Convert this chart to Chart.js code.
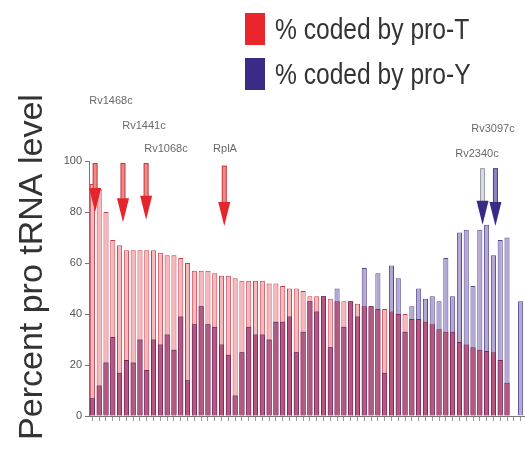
<!DOCTYPE html>
<html>
<head>
<meta charset="utf-8">
<script src="https://cdn.jsdelivr.net/npm/chart.js@4.4.0/dist/chart.umd.min.js"></script>
<style>
  body { margin: 0; background: #fff; }
  canvas { display: block; }
</style>
</head>
<body>
<canvas id="myChart" width="525" height="467"></canvas>
<script>
// % of each protein coded by pro-T / pro-Y
var proT = [91, 89, 80, 69, 67, 65, 65, 65, 65, 65,
  64, 63, 63, 62, 60, 57, 57, 57, 56, 55,
  55, 54, 53, 53, 53, 53, 52, 52, 51, 50,
  50, 49, 47, 47, 47, 46, 45, 45, 45, 44,
  43, 43, 42, 42, 41, 40, 40, 38, 38, 37,
  36, 34, 33, 33, 29, 28, 27, 26, 25.5, 25,
  22, 13, 0, 0]
var proY = [7, 12, 21, 31, 17, 22, 21, 30, 18, 30,
  28, 32, 26, 39, 14, 36, 43, 36, 35, 28,
  24, 8, 25, 35, 32, 32, 30, 37, 37, 39,
  25, 33, 45, 41, 47, 27, 50, 35, 45, 39,
  58, 43, 56, 17, 59, 54, 33, 43, 50, 46,
  47, 45, 62, 47, 72, 73, 51, 73, 75, 63,
  69, 70, 0, 45]
var yTicks = [0, 20, 40, 60, 80, 100]

// highlighted proteins: arrow at category position, shaft top / tip value
var arrowNames = ['Rv1468c', 'Rv1441c', 'Rv1068c', 'RplA', 'Rv2340c', 'Rv3097c']
var arrowPos = [0.4, 4.5, 7.9, 19.4, 57.4, 59.3]
var arrowTop = [99, 99, 99, 98, 97, 97]
var arrowTip = [80, 76, 77, 74.5, 75, 74.5]

var categories = proT.map(function (v, i) { return String(i + 1) })
var overlap = proT.map(function (v, i) { return Math.min(v, proY[i]) })

// styling for the arrows / labels
var arrowStyle = [
  { shaft: '#f08a8a', edge: '#c43232', head: '#e3262b', lx: 111, ly: 104 },
  { shaft: '#f08a8a', edge: '#c43232', head: '#e3262b', lx: 144, ly: 129 },
  { shaft: '#f08a8a', edge: '#c43232', head: '#e3262b', lx: 166, ly: 152 },
  { shaft: '#f08a8a', edge: '#c43232', head: '#e3262b', lx: 225, ly: 152 },
  { shaft: '#d6ddd2', edge: '#9a9aae', head: '#3a2a88', lx: 477, ly: 157 },
  { shaft: '#8d84c4', edge: '#4a3c92', head: '#3a2a88', lx: 493, ly: 132 }
]

var FONT = 'Arial, "Liberation Sans", sans-serif'

var extras = {
  id: 'extras',
  afterDraw: function (chart) {
    var ctx = chart.ctx
    var x = chart.scales.x, y = chart.scales.y

    // arrows
    for (var i = 0; i < arrowNames.length; i++) {
      var s = arrowStyle[i]
      var px = x.getPixelForValue(arrowPos[i])
      var top = y.getPixelForValue(arrowTop[i])
      var tip = y.getPixelForValue(arrowTip[i])
      var headH = 24, headW = 12
      ctx.save()
      ctx.fillStyle = s.shaft
      ctx.strokeStyle = s.edge
      ctx.lineWidth = 1
      ctx.fillRect(px - 2, top, 4, tip - headH - top + 2)
      ctx.strokeRect(px - 2, top, 4, tip - headH - top + 2)
      ctx.beginPath()
      ctx.moveTo(px - headW / 2, tip - headH)
      ctx.lineTo(px + headW / 2, tip - headH)
      ctx.lineTo(px, tip)
      ctx.closePath()
      ctx.fillStyle = s.head
      ctx.fill()
      ctx.restore()

      ctx.save()
      ctx.font = '11px ' + FONT
      ctx.fillStyle = '#6a6a6a'
      ctx.textAlign = 'center'
      ctx.fillText(arrowNames[i], s.lx, s.ly)
      ctx.restore()
    }

    // y axis title
    ctx.save()
    ctx.translate(42, 267)
    ctx.rotate(-Math.PI / 2)
    ctx.font = '34px ' + FONT
    ctx.fillStyle = '#333'
    ctx.textAlign = 'center'
    ctx.fillText('Percent pro tRNA level', 0, 0)
    ctx.restore()

    // legend (two rows, top right)
    var ds = chart.data.datasets
    var legendColors = ['#e8262b', '#3b2a86']
    for (var k = 0; k < 2; k++) {
      var ty = 13 + k * 45
      ctx.save()
      ctx.fillStyle = legendColors[k]
      ctx.fillRect(245, ty, 20, 32)
      ctx.translate(275, ty + 26)
      ctx.scale(0.82, 1)
      ctx.font = '30px ' + FONT
      ctx.fillStyle = '#333'
      ctx.fillText(ds[k].label, 0, 0)
      ctx.restore()
    }
  }
}

var ctx = document.getElementById('myChart').getContext('2d')
var chart = new Chart(ctx, {
  type: 'bar',
  data: {
    labels: categories,
    datasets: [{
      label: '% coded by pro-T',
      data: proT,
      backgroundColor: '#f6b8bb',
      borderColor: '#c4404f',
      borderWidth: 1,
      order: 3
    },
    {
      label: '% coded by pro-Y',
      data: proY,
      backgroundColor: '#b3a7d3',
      borderColor: '#56488e',
      borderWidth: 1,
      order: 2
    },
    {
      label: 'overlap',
      data: overlap,
      backgroundColor: '#b8567f',
      borderColor: '#7c2a55',
      borderWidth: 1,
      order: 1
    }]
  },
  options: {
    responsive: false,
    animation: false,
    layout: { padding: { top: 161, right: 1 } },
    datasets: { bar: { grouped: false, barPercentage: 0.75, categoryPercentage: 1 } },
    plugins: { legend: { display: false }, tooltip: { enabled: false } },
    scales: {
      x: {
        grid: { display: true, drawOnChartArea: false, offset: false, tickLength: 5, color: '#999' },
        border: { color: '#777' },
        ticks: { display: false },
        afterFit: function (s) { s.height = 51 }
      },
      y: {
        min: 0,
        max: 100,
        afterBuildTicks: function (s) { s.ticks = yTicks.map(function (v) { return { value: v } }) },
        ticks: { font: { size: 11, family: FONT }, color: '#555', padding: 3 },
        grid: { drawOnChartArea: false, tickLength: 4, color: '#777' },
        border: { color: '#777' },
        afterFit: function (s) { s.width = 89 }
      }
    }
  },
  plugins: [extras]
})
</script>
</body>
</html>
